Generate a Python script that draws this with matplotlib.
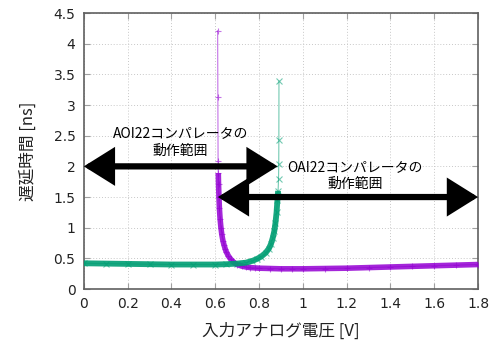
import numpy as np
import matplotlib
matplotlib.use("Agg")
import matplotlib.pyplot as plt

# AOI22 comparator delay (purple)
aoi_v = [0.611, 0.612, 0.613, 0.614, 0.615, 0.617, 0.619, 0.622, 0.626, 0.630,
         0.635, 0.640, 0.645, 0.650, 0.660, 0.670, 0.680, 0.690, 0.700, 0.720,
         0.740, 0.760, 0.780, 0.800, 0.850, 0.900, 0.950, 1.000, 1.100, 1.200,
         1.300, 1.400, 1.500, 1.600, 1.700, 1.800]
aoi_d = [4.21, 3.13, 2.08, 1.89, 1.72, 1.50, 1.32, 1.15, 1.00, 0.89,
         0.79, 0.72, 0.66, 0.61, 0.54, 0.49, 0.45, 0.42, 0.40, 0.375,
         0.36, 0.35, 0.345, 0.34, 0.335, 0.33, 0.33, 0.33, 0.335, 0.34,
         0.35, 0.36, 0.37, 0.38, 0.39, 0.40]

# OAI22 comparator delay (green)
oai_v = [0.00, 0.10, 0.20, 0.30, 0.40, 0.50, 0.60, 0.65, 0.70, 0.74,
         0.77, 0.79, 0.81, 0.83, 0.845, 0.855, 0.863, 0.870, 0.875, 0.880,
         0.884, 0.887, 0.889, 0.890, 0.8905, 0.891]
oai_d = [0.42, 0.415, 0.41, 0.405, 0.40, 0.40, 0.40, 0.405, 0.415, 0.43,
         0.46, 0.49, 0.53, 0.59, 0.66, 0.74, 0.84, 0.95, 1.08, 1.25,
         1.45, 1.60, 1.79, 2.04, 2.43, 3.39]

# operating ranges (arrows)
aoi_range = [0.0, 0.885]
aoi_range_y = 2.0
oai_range = [0.612, 1.8]
oai_range_y = 1.5

xticks = [0, 0.2, 0.4, 0.6, 0.8, 1, 1.2, 1.4, 1.6, 1.8]
xtick_labels = ["0", "0.2", "0.4", "0.6", "0.8", "1", "1.2", "1.4", "1.6", "1.8"]
yticks = [0, 0.5, 1, 1.5, 2, 2.5, 3, 3.5, 4, 4.5]
ytick_labels = ["0", "0.5", "1", "1.5", "2", "2.5", "3", "3.5", "4", "4.5"]

JP = ['Noto Sans CJK JP', 'DejaVu Sans']
purple = '#9400D3'
green = '#009E73'

fig = plt.figure(figsize=(4.99, 3.47), dpi=100)
ax = fig.add_axes([0.168, 0.167, 0.79, 0.7955])

aoi_v_a = np.array(aoi_v); aoi_d_a = np.array(aoi_d)
oai_v_a = np.array(oai_v); oai_d_a = np.array(oai_d)

# thin lines with markers
ax.plot(aoi_v_a, aoi_d_a, color=purple, lw=0.8, alpha=0.55, marker='+', ms=5, mew=0.8, zorder=3)
ax.plot(oai_v_a, oai_d_a, color=green, lw=0.8, alpha=0.55, marker='x', ms=4, mew=0.8, zorder=3)
# dense-sample region drawn thick
m = aoi_d_a < 1.95
ax.plot(aoi_v_a[m], aoi_d_a[m], color=purple, lw=4.0, alpha=0.85, zorder=3, solid_capstyle='butt')
m = oai_d_a < 1.7
ax.plot(oai_v_a[m], oai_d_a[m], color=green, lw=4.2, alpha=0.9, zorder=4, solid_capstyle='butt')

# arrows
for rng, yy in [(aoi_range, aoi_range_y), (oai_range, oai_range_y)]:
    ax.annotate('', xy=(rng[1], yy), xytext=(rng[0], yy),
                arrowprops=dict(arrowstyle='<|-|>,head_length=0.8,head_width=0.5',
                                mutation_scale=20, lw=4.5, color='black',
                                shrinkA=0, shrinkB=0, joinstyle='miter'),
                zorder=5, annotation_clip=False)

ax.text(0.44, 2.4, 'AOI22コンパレータの\n動作範囲', family=JP, fontsize=10,
        ha='center', va='center', linespacing=1.3, zorder=6)
ax.text(1.24, 1.85, 'OAI22コンパレータの\n動作範囲', family=JP, fontsize=10,
        ha='center', va='center', linespacing=1.3, zorder=6)

ax.set_xlim(0, 1.8)
ax.set_ylim(0, 4.5)
ax.set_xticks(xticks)
ax.set_xticklabels(xtick_labels)
ax.set_yticks(yticks)
ax.set_yticklabels(ytick_labels)
ax.tick_params(direction='in', length=4, width=0.8, color='#a0a0a0',
               top=True, right=True, labelsize=10, labelcolor='#222222', pad=6)
for lab in ax.get_xticklabels() + ax.get_yticklabels():
    lab.set_family(['DejaVu Sans'])
ax.grid(True, color='#c8c8c8', ls=(0, (1, 2)), lw=0.7)
ax.set_axisbelow(True)
for s in ax.spines.values():
    s.set_color('#606060')
    s.set_linewidth(1.2)

ax.set_xlabel('入力アナログ電圧 [V]', family=JP, fontsize=12, color='#222222', labelpad=8)
ax.set_ylabel('遅延時間 [ns]', family=JP, fontsize=12, color='#222222', labelpad=12)

fig.savefig('out.png', dpi=100)
